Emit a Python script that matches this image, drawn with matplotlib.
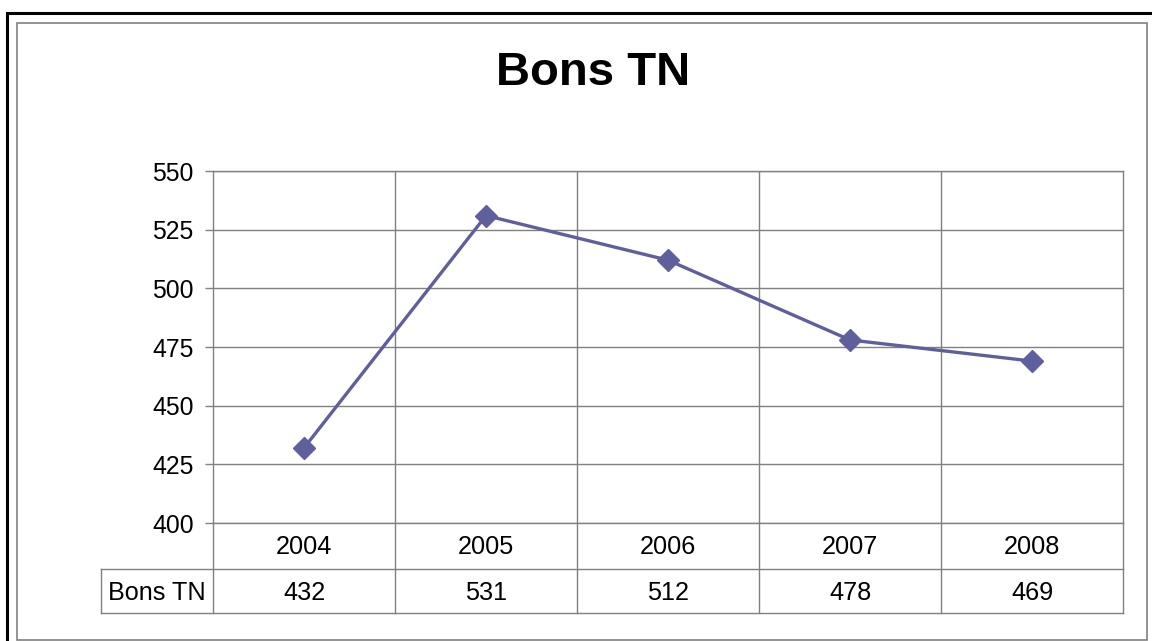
import matplotlib
matplotlib.use("Agg")
import matplotlib.pyplot as plt
from matplotlib.lines import Line2D
from matplotlib.patches import Rectangle

years = ["2004", "2005", "2006", "2007", "2008"]
values = [432, 531, 512, 478, 469]
series_name = "Bons TN"
title = "Bons TN"
yticks = [400, 425, 450, 475, 500, 525, 550]

plt.rcParams['font.family'] = ['Liberation Sans', 'DejaVu Sans']

W, H = 1152, 641
fig = plt.figure(figsize=(W / 100, H / 100), dpi=100)
fig.patch.set_facecolor('white')

def fx(px):
    return px / W

def fy(py):
    return 1 - py / H

# outer black border (top and left) and inner gray frame
fig.add_artist(Line2D([fx(7), fx(1152)], [fy(13), fy(13)], color='black', lw=2.2))
fig.add_artist(Line2D([fx(7), fx(7)], [fy(13), fy(641)], color='black', lw=2.2))
fig.add_artist(Rectangle((fx(17), fy(640)), fx(1147) - fx(17), fy(23) - fy(640),
                         fill=False, edgecolor='#808080', lw=1.2))

left, right, top, bottom = 213, 1123, 171, 523
ax = fig.add_axes([fx(left), fy(bottom), fx(right) - fx(left), fy(top) - fy(bottom)])

n = len(years)
xs = [i + 0.5 for i in range(n)]
ax.plot(xs, values, color='#5F5F9E', lw=2.4, marker='D', ms=11,
        markerfacecolor='#5F5F9E', markeredgecolor='#5F5F9E', zorder=3)

ax.set_xlim(0, n)
ax.set_ylim(yticks[0], yticks[-1])
ax.set_yticks(yticks)
ax.set_yticklabels([str(t) for t in yticks], fontsize=17.8)
ax.set_xticks([])
ax.tick_params(axis='y', direction='out', length=6, width=1, color='#808080', pad=8)

for t in yticks:
    ax.axhline(t, color='#808080', lw=1, zorder=1)
for i in range(1, n):
    ax.axvline(i, color='#808080', lw=1, zorder=1)
for s in ax.spines.values():
    s.set_color('#808080')
    s.set_linewidth(1)

fig.text(0.515, fy(73), title, ha='center', va='center', fontsize=34, fontweight='bold')

# data table under plot
tr = ax.get_xaxis_transform()
axh = bottom - top
r1 = -46 / axh
r2 = -90 / axh
lx = -112 / ((right - left) / n)
kw = dict(transform=tr, clip_on=False, color='#808080', lw=1)
ax.plot([lx, n], [r1, r1], **kw)
ax.plot([lx, n], [r2, r2], **kw)
ax.plot([lx, lx], [r1, r2], **kw)
for i in range(n + 1):
    ax.plot([i, i], [0, r2], **kw)
ty1 = r1 / 2 - 1.5 / axh
ty2 = (r1 + r2) / 2 - 2.5 / axh
for i, (yr, v) in enumerate(zip(years, values)):
    ax.text(i + 0.5, ty1, yr, transform=tr, ha='center', va='center', fontsize=18.2)
    ax.text(i + 0.5, ty2, str(v), transform=tr, ha='center', va='center', fontsize=18.2)
ax.text(lx / 2, ty2, series_name, transform=tr, ha='center', va='center', fontsize=18.2)

fig.savefig('out.png', dpi=100)
